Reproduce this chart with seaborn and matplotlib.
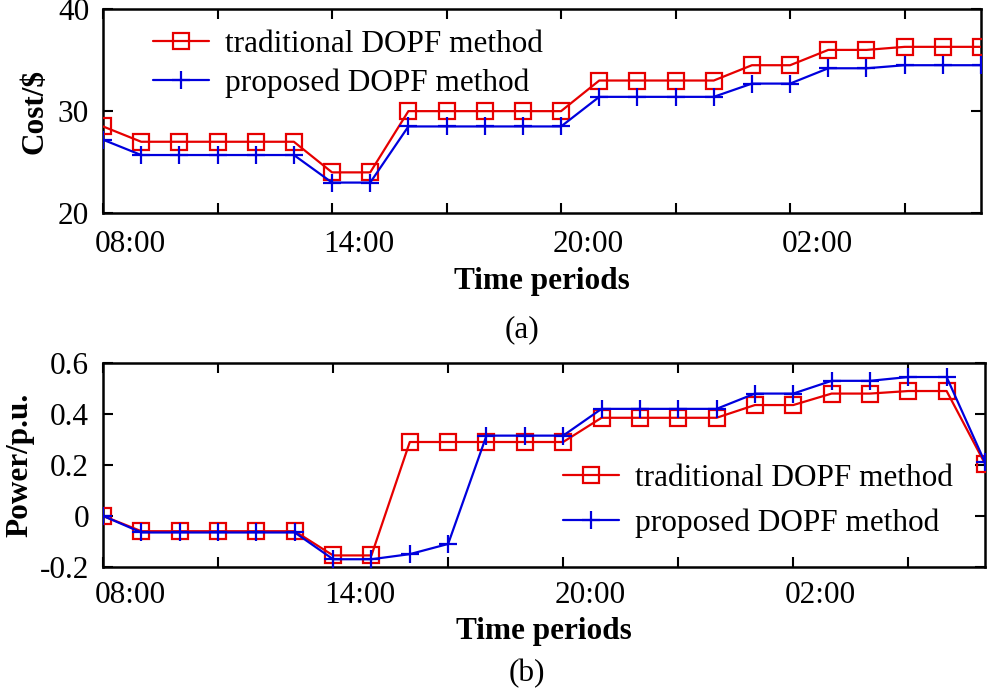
import numpy as np
import pandas as pd
import matplotlib
matplotlib.use("Agg")
import matplotlib.pyplot as plt
import matplotlib.transforms as mtransforms
import seaborn as sns

# hourly periods, 08:00 to 07:00 next day
periods = list(range(24))
tick_pos = [0, 3, 6, 9, 12, 15, 18, 21]
tick_labels = ["08:00", "", "14:00", "", "20:00", "", "02:00", ""]

# (a) cost
cost_traditional = [28.5, 27, 27, 27, 27, 27, 24, 24, 30, 30, 30, 30, 30,
                    33, 33, 33, 33, 34.5, 34.5, 36, 36, 36.3, 36.3, 36.3]
cost_proposed = [27.2, 25.7, 25.7, 25.7, 25.7, 25.7, 23, 23, 28.5, 28.5, 28.5, 28.5, 28.5,
                 31.4, 31.4, 31.4, 31.4, 32.7, 32.7, 34.2, 34.2, 34.5, 34.5, 34.5]

# (b) power
power_traditional = [0, -0.06, -0.06, -0.06, -0.06, -0.06, -0.155, -0.155, 0.29, 0.29, 0.29, 0.29, 0.29,
                     0.385, 0.385, 0.385, 0.385, 0.435, 0.435, 0.48, 0.48, 0.49, 0.49, 0.205]
power_proposed = [0, -0.065, -0.065, -0.065, -0.065, -0.065, -0.17, -0.17, -0.15, -0.11, 0.315, 0.315, 0.315,
                  0.42, 0.42, 0.42, 0.42, 0.48, 0.48, 0.53, 0.53, 0.545, 0.545, 0.21]

RED = "#e60000"
BLUE = "#0000dd"
FS = 22.5

sns.set_style("ticks")
plt.rcParams["font.family"] = ["Liberation Serif", "DejaVu Serif"]
plt.rcParams["text.color"] = "black"
plt.rcParams["axes.labelcolor"] = "black"
plt.rcParams["xtick.color"] = "black"
plt.rcParams["ytick.color"] = "black"

fig = plt.figure(figsize=(10.06, 6.99), dpi=100)
ax1 = fig.add_axes([0.1024, 0.695, 0.8727, 0.292])
ax2 = fig.add_axes([0.1024, 0.189, 0.8767, 0.2917])


def draw(ax, trad, prop, xpad, lpad):
    df = pd.DataFrame({"period": periods, "trad": trad, "prop": prop})
    sns.lineplot(data=df, x="period", y="trad", ax=ax, color=RED, lw=1.6,
                 marker="s", markersize=11, markerfacecolor="none",
                 markeredgecolor=RED, markeredgewidth=1.6,
                 label="traditional DOPF method", zorder=3)
    sns.lineplot(data=df, x="period", y="prop", ax=ax, color=BLUE, lw=1.6,
                 marker="+", markersize=13, markeredgecolor=BLUE,
                 markeredgewidth=1.6, label="proposed DOPF method", zorder=4)
    ax.set_xlim(0, 23)
    ax.set_xticks(tick_pos)
    ax.set_xticklabels(tick_labels)
    ax.tick_params(direction="in", length=7, width=1.5, top=True, right=True,
                   labelsize=FS, colors="black")
    ax.tick_params(axis="x", pad=xpad)
    ax.tick_params(axis="y", pad=10)
    # labels in the reference sit a bit right of their ticks
    off = mtransforms.ScaledTranslation(0.27, 0, fig.dpi_scale_trans)
    for lab in ax.get_xticklabels():
        lab.set_transform(lab.get_transform() + off)
    for s in ax.spines.values():
        s.set_linewidth(1.8)
        s.set_color("black")
    ax.set_xlabel("Time periods", fontsize=FS, fontweight="bold", labelpad=lpad)
    ax.grid(False)


draw(ax1, cost_traditional, cost_proposed, 12, 6)
ax1.set_ylim(20, 40)
ax1.set_yticks([20, 30, 40])
ax1.set_yticklabels(["20", "30", "40"])
ax1.set_ylabel(r"Cost/\$", fontsize=FS, fontweight="bold", labelpad=6)
ax1.legend(loc="upper left", bbox_to_anchor=(0.025, 1.035), frameon=False,
           fontsize=FS, handlelength=1.8, handletextpad=0.5, labelspacing=0.3)

draw(ax2, power_traditional, power_proposed, 10, 5)
ax2.set_ylim(-0.2, 0.6)
ax2.set_yticks([-0.2, 0, 0.2, 0.4, 0.6])
ax2.set_yticklabels(["-0.2", "0", "0.2", "0.4", "0.6"])
ax2.set_ylabel("Power/p.u.", fontsize=FS, fontweight="bold", labelpad=4)
ax2.legend(loc="lower right", bbox_to_anchor=(0.995, 0.005), frameon=False,
           fontsize=FS, handlelength=1.8, handletextpad=0.5, labelspacing=0.5)

fig.text(0.519, 0.528, "(a)", ha="center", va="center", fontsize=FS)
fig.text(0.524, 0.037, "(b)", ha="center", va="center", fontsize=FS)

fig.savefig("out.png", dpi=100)
